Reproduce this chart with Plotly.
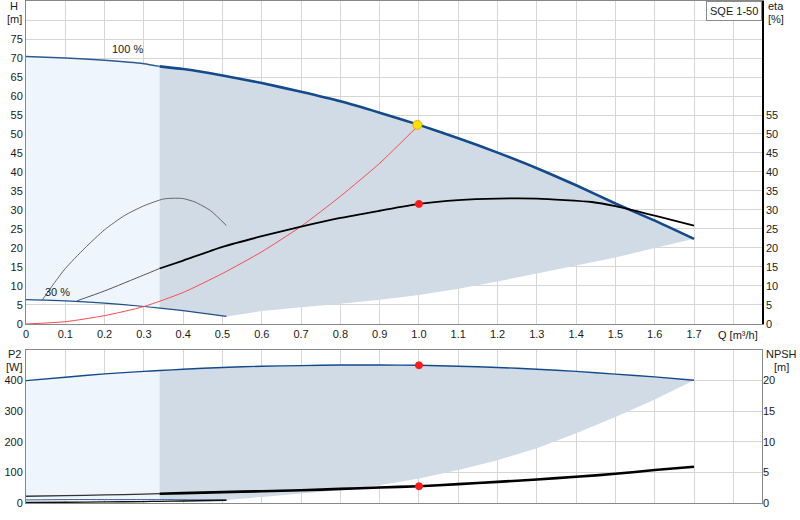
import plotly.graph_objects as go

# =========================
# 数据
# =========================
Q_TICKS = [0, 0.1, 0.2, 0.3, 0.4, 0.5, 0.6, 0.7, 0.8, 0.9, 1.0, 1.1, 1.2, 1.3, 1.4, 1.5, 1.6, 1.7]
Q_TICK_TEXT = ["0", "0.1", "0.2", "0.3", "0.4", "0.5", "0.6", "0.7", "0.8", "0.9",
               "1.0", "1.1", "1.2", "1.3", "1.4", "1.5", "1.6", "1.7"]

# 100 % 转速曲线
Q_100 = [0, 0.1, 0.2, 0.3, 0.34, 0.4, 0.5, 0.6, 0.7, 0.8, 0.9, 1.0, 1.1, 1.2, 1.3, 1.4, 1.5, 1.6, 1.7]
H_100 = [70.4, 70.0, 69.4, 68.5, 67.8, 67.1, 65.4, 63.4, 61.1, 58.6, 55.6, 52.4, 48.9, 45.1, 41.0, 36.5, 31.7, 27.2, 22.4]
P2_100 = [400, 411, 422, 430, 433, 437, 443, 447, 449, 451, 451, 450, 447, 443, 437, 430, 421, 412, 401]
NPSH_100 = [1.1, 1.2, 1.32, 1.45, 1.52, 1.62, 1.78, 1.93, 2.09, 2.3, 2.53, 2.74, 3.08, 3.45, 3.85, 4.28, 4.77, 5.38, 5.92]

# 30 % 转速曲线
Q_30 = [0, 0.1, 0.2, 0.3, 0.34, 0.4, 0.51]
H_30 = [6.4, 6.1, 5.5, 4.6, 4.2, 3.5, 2.0]
P2_30 = [10, 11, 11, 11, 11, 10.5, 10]
NPSH_30 = [0.1, 0.12, 0.17, 0.24, 0.27, 0.33, 0.45]

# 工作范围下边界
Q_LOW = [0.51, 0.6, 0.7, 0.8, 0.9, 1.0, 1.1, 1.2, 1.3, 1.4, 1.5, 1.6, 1.7]
H_LOW = [2.0, 3.4, 4.4, 5.3, 6.4, 7.6, 9.3, 11.2, 13.3, 15.4, 17.5, 20.0, 22.4]
P2_LOW = [10, 20, 31, 42, 58, 80, 108, 140, 179, 228, 281, 338, 401]

# 效率
Q_ETA = [0.13, 0.2, 0.3, 0.34, 0.4, 0.5, 0.6, 0.7, 0.8, 0.9, 1.0, 1.1, 1.2, 1.3, 1.44, 1.5, 1.6, 1.7]
ETA = [6.1, 8.7, 12.9, 14.6, 16.7, 20.3, 23.1, 25.6, 27.9, 29.8, 31.6, 32.6, 33.0, 33.0, 32.1, 31.0, 28.5, 25.9]
Q_ETA30 = [0.04, 0.07, 0.1, 0.15, 0.2, 0.25, 0.3, 0.35, 0.38, 0.4, 0.43, 0.47, 0.51]
ETA30 = [6.1, 10.5, 14.6, 20.0, 24.8, 28.5, 31.1, 32.9, 33.1, 33.0, 32.1, 29.8, 25.9]

# 系统曲线
Q_SYS = [0, 0.1, 0.2, 0.3, 0.4, 0.5, 0.6, 0.7, 0.8, 0.9, 1.0]
H_SYS = [0, 0.6, 2.2, 4.6, 8.3, 13.3, 19.0, 25.7, 33.6, 42.3, 52.4]

# 工况点
DUTY_Q = 1.0
DUTY_H = 52.4
DUTY_ETA = 31.6
DUTY_P2 = 450
DUTY_NPSH = 2.74

Q_SPLIT = 0.34

# =========================
# 颜色
# =========================
BLUE = "#134a8c"
LIGHT_FILL = "#eef5fd"
GREY_FILL = "#d0dbe6"
GRID = "#d6d6d6"
FONT = "Liberation Sans, Arial, sans-serif"

i100 = Q_100.index(Q_SPLIT)
i30 = Q_30.index(Q_SPLIT)
ieta = Q_ETA.index(Q_SPLIT)

fig = go.Figure()


def area(x_top, y_top, x_bot, y_bot, color, xa, ya):
    fig.add_trace(go.Scatter(
        x=list(x_top) + list(x_bot)[::-1],
        y=list(y_top) + list(y_bot)[::-1],
        fill="toself", fillcolor=color, mode="none",
        xaxis=xa, yaxis=ya, hoverinfo="skip", showlegend=False
    ))


def line(x, y, color, width, xa, ya):
    fig.add_trace(go.Scatter(
        x=x, y=y, mode="lines",
        line=dict(color=color, width=width, shape="spline", smoothing=0.6),
        xaxis=xa, yaxis=ya, hoverinfo="skip", showlegend=False
    ))


def dot(x, y, xa, ya, color="#ff1a1a", size=8, line_color=None, symbol="circle"):
    fig.add_trace(go.Scatter(
        x=[x], y=[y], mode="markers",
        marker=dict(color=color, size=size, symbol=symbol,
                    line=dict(color=line_color or color, width=1)),
        xaxis=xa, yaxis=ya, hoverinfo="skip", showlegend=False
    ))


# ---- 上图 QH ----
area(Q_100[:i100 + 1], H_100[:i100 + 1], Q_30[:i30 + 1], H_30[:i30 + 1], LIGHT_FILL, "x", "y")
area(Q_100[i100:], H_100[i100:], Q_30[i30:] + Q_LOW[1:], H_30[i30:] + H_LOW[1:], GREY_FILL, "x", "y")

line(Q_100[:i100 + 1], H_100[:i100 + 1], "#2b5b94", 1.4, "x", "y")
line(Q_100[i100:], H_100[i100:], BLUE, 2.6, "x", "y")
line(Q_30, H_30, "#1f4f8a", 1.2, "x", "y")

line(Q_ETA30, ETA30, "#666666", 1, "x", "y2")
line(Q_ETA[:ieta + 1], ETA[:ieta + 1], "#555555", 1, "x", "y2")
line(Q_ETA[ieta:], ETA[ieta:], "#000000", 1.8, "x", "y2")

line(Q_SYS, H_SYS, "#ff4a4a", 1, "x", "y")

dot(DUTY_Q, DUTY_ETA, "x", "y2", size=7)
dot(DUTY_Q + 0.004, DUTY_H + 0.7, "x", "y", color="rgba(0,0,0,0)", size=9,
    line_color="#ff6060", symbol="circle-open")
dot(DUTY_Q - 0.004, DUTY_H, "x", "y", color="#ffe000", size=9, line_color="#f0b000")

# ---- 下图 P2 / NPSH ----
area(Q_100[:i100 + 1], P2_100[:i100 + 1], Q_30[:i30 + 1], P2_30[:i30 + 1], LIGHT_FILL, "x2", "y3")
area(Q_100[i100:], P2_100[i100:], Q_30[i30:] + Q_LOW[1:], P2_30[i30:] + P2_LOW[1:], GREY_FILL, "x2", "y3")

line(Q_100, P2_100, BLUE, 1.4, "x2", "y3")
line(Q_30, P2_30, "#2b5b94", 1, "x2", "y3")
line(Q_100[:i100 + 1], NPSH_100[:i100 + 1], "#333333", 1.3, "x2", "y4")
line(Q_100[i100:], NPSH_100[i100:], "#000000", 2.6, "x2", "y4")
line(Q_30, NPSH_30, "#111111", 1.3, "x2", "y4")

dot(DUTY_Q, DUTY_P2, "x2", "y3", size=7)
dot(DUTY_Q, DUTY_NPSH, "x2", "y4", size=7)

# =========================
# 坐标轴
# =========================
X_RANGE = [0, 1.873]
x_grid = Q_TICKS + [1.8]
tick_font = dict(family=FONT, size=11, color="#1a1a1a")

H_TICKS = list(range(0, 90, 5))
H_TEXT = [str(v) if v <= 75 else "" for v in H_TICKS]
ETA_TEXT = [str(v) if v <= 55 else "" for v in H_TICKS]

fig.update_layout(
    width=800, height=520,
    margin=dict(l=26, r=38, t=1, b=17),
    paper_bgcolor="white", plot_bgcolor="white",
    font=dict(family=FONT, size=11, color="#1a1a1a"),
    xaxis=dict(domain=[0, 1], anchor="y", range=X_RANGE,
               tickvals=x_grid, ticktext=Q_TICK_TEXT + [""],
               showgrid=True, gridcolor=GRID, gridwidth=1,
               showline=True, linecolor="#888888", mirror=True,
               ticks="", tickfont=tick_font, zeroline=False),
    yaxis=dict(domain=[0.3566, 1], anchor="x", range=[0, 85],
               tickvals=H_TICKS, ticktext=H_TEXT,
               showgrid=True, gridcolor=GRID, gridwidth=1,
               showline=True, linecolor="#888888",
               ticks="", tickfont=tick_font, zeroline=False),
    yaxis2=dict(overlaying="y", side="right", anchor="x", range=[0, 85],
                tickvals=H_TICKS, ticktext=ETA_TEXT, showgrid=False,
                showline=True, linecolor="#000000", linewidth=1.5,
                ticks="", tickfont=tick_font, zeroline=False),
    xaxis2=dict(domain=[0, 1], anchor="y3", range=X_RANGE,
                tickvals=x_grid, showticklabels=False,
                showgrid=True, gridcolor=GRID, gridwidth=1,
                showline=True, linecolor="#888888", mirror=True,
                ticks="", zeroline=False),
    yaxis3=dict(domain=[0, 0.3048], anchor="x2", range=[0, 500],
                tickvals=[0, 100, 200, 300, 400, 500],
                ticktext=["0", "100", "200", "300", "400", ""],
                showgrid=True, gridcolor=GRID, gridwidth=1,
                showline=True, linecolor="#888888", mirror=True,
                ticks="", tickfont=tick_font, zeroline=False),
    yaxis4=dict(overlaying="y3", side="right", anchor="x2", range=[0, 25],
                tickvals=[0, 5, 10, 15, 20], showgrid=False,
                ticks="", tickfont=tick_font, zeroline=False),
)

# =========================
# 标注
# =========================
lab = dict(family=FONT, size=11, color="#1a1a1a")
annotations = [
    dict(text="H", xref="paper", x=0, xshift=-12, yref="y", y=83.6, xanchor="center"),
    dict(text="[m]", xref="paper", x=0, xshift=-12, yref="y", y=80.3, xanchor="center"),
    dict(text="eta", xref="paper", x=1, xshift=4, yref="y", y=83.6, xanchor="left"),
    dict(text="[%]", xref="paper", x=1, xshift=4, yref="y", y=80.3, xanchor="left"),
    dict(text="P2", xref="paper", x=0, xshift=-12, yref="y3", y=486, xanchor="center"),
    dict(text="[W]", xref="paper", x=0, xshift=-12, yref="y3", y=443, xanchor="center"),
    dict(text="NPSH", xref="paper", x=1, xshift=19, yref="y3", y=486, xanchor="center"),
    dict(text="[m]", xref="paper", x=1, xshift=19, yref="y3", y=443, xanchor="center"),
    dict(text="Q [m³/h]", xref="x", x=1.8, xshift=5, yref="paper", y=0.3566, yshift=-11,
         xanchor="center", yanchor="middle"),
    dict(text="100 %", xref="x", x=0.258, yref="y", y=72.4, xanchor="center"),
    dict(text="30 %", xref="x", x=0.079, yref="y", y=8.5, xanchor="center"),
    dict(text="SQE 1-50", xref="paper", x=1, yref="paper", y=1, xanchor="right", yanchor="top",
         bgcolor="white", bordercolor="#8c8c8c", borderwidth=1, borderpad=3),
]
for a in annotations:
    a.setdefault("yanchor", "middle")
    a["showarrow"] = False
    a["font"] = lab
fig.update_layout(annotations=annotations)

# 去掉页面默认的 body 边距
fig.write_html("out.html", config={"displayModeBar": False},
               post_script="document.body.style.margin='0';")
